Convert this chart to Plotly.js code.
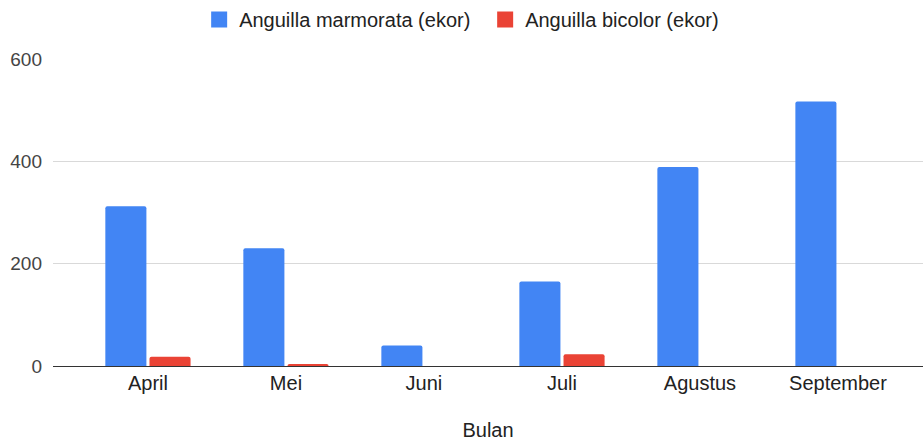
<!DOCTYPE html>
<html>
<head>
<meta charset="utf-8">
<script src="https://cdn.plot.ly/plotly-3.0.1.min.js"></script>
<style>html,body{margin:0;padding:0;background:#fff;}#chart{width:923px;height:441px;}</style>
</head>
<body>
<div id="chart"></div>
<script>
const months = ["April", "Mei", "Juni", "Juli", "Agustus", "September"];
const marmorata = [312, 230, 40, 165, 389, 517];
const bicolor = [18, 4, 0, 23, 0, 0];
const yTicks = [0, 200, 400, 600];
const seriesNames = ["Anguilla marmorata (ekor)", "Anguilla bicolor (ekor)"];
const seriesColors = ["#4285F4", "#EA4335"];

const font = "'Liberation Sans', Arial, sans-serif";
const data = [
  {type: "bar", name: seriesNames[0], x: months, y: marmorata, showlegend: false,
   marker: {color: seriesColors[0], cornerradius: 2}},
  {type: "bar", name: seriesNames[1], x: months, y: bicolor, showlegend: false,
   marker: {color: seriesColors[1], cornerradius: 2}},
  {type: "scatter", mode: "markers", name: seriesNames[0], x: [null], y: [null],
   marker: {symbol: "square", size: 16, color: seriesColors[0]}},
  {type: "scatter", mode: "markers", name: seriesNames[1], x: [null], y: [null],
   marker: {symbol: "square", size: 16, color: seriesColors[1]}}
];
const layout = {
  width: 923, height: 441,
  margin: {l: 53, r: 0, t: 58, b: 75},
  paper_bgcolor: "#fff", plot_bgcolor: "#fff",
  font: {family: font, size: 20, color: "#222"},
  barmode: "group", bargap: 0.36, bargroupgap: 0.07,
  showlegend: true,
  legend: {orientation: "h", x: 0.168, xanchor: "left", y: 1.13, yanchor: "middle",
           entrywidth: 241, entrywidthmode: "pixels",
           font: {family: font, size: 20, color: "#222"}, itemclick: false},
  xaxis: {range: [-0.688, 5.616], showgrid: false, zeroline: false, showline: false,
          ticks: "", tickfont: {size: 20, color: "#222"}, ticklabelstandoff: 3,
          title: {text: "Bulan", font: {size: 20, color: "#222"}, standoff: 29}, fixedrange: true},
  yaxis: {range: [0, 600], tickvals: yTicks, ticktext: yTicks.map(String),
          showgrid: true, gridcolor: "#d9d9d9", gridwidth: 1,
          zeroline: true, zerolinecolor: "#333", zerolinewidth: 1,
          showline: false, ticks: "", ticklabelstandoff: 10,
          tickfont: {size: 19, color: "#444"}, fixedrange: true}
};
Plotly.newPlot("chart", data, layout, {displayModeBar: false, staticPlot: true});
</script>
</body>
</html>
